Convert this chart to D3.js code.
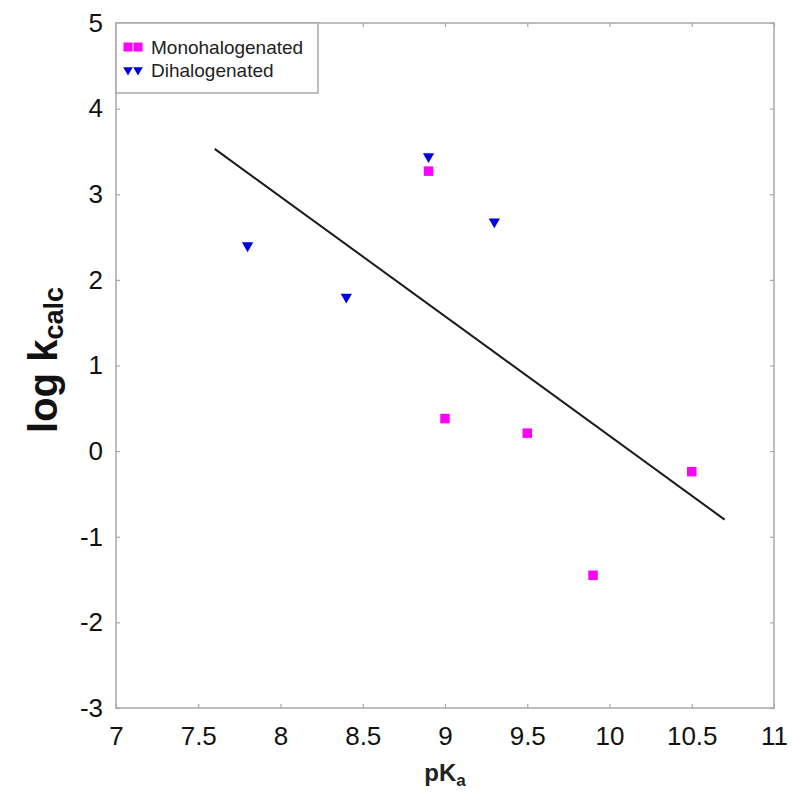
<!DOCTYPE html>
<html>
<head>
<meta charset="utf-8">
<script src="https://cdn.jsdelivr.net/npm/d3@7"></script>
<style>
  body { margin: 0; background: #fff; }
  svg { font-family: "Liberation Sans", Arial, sans-serif; }
</style>
</head>
<body>
<svg class="chart"></svg>
<script>
// series values
var monoPKa  = [8.9, 9.0, 9.5, 9.9, 10.5];
var monoLogK = [3.27, 0.38, 0.21, -1.45, -0.24];
var diPKa    = [7.8, 8.4, 8.9, 9.3];
var diLogK   = [2.40, 1.80, 3.44, 2.68];
var fitPKa   = [7.6, 10.7];
var fitLogK  = [3.53, -0.80];

var xTicks = [7, 7.5, 8, 8.5, 9, 9.5, 10, 10.5, 11];
var yTicks = [-3, -2, -1, 0, 1, 2, 3, 4, 5];
var seriesNames = ['Monohalogenated', 'Dihalogenated'];

var width  = 800;
var height = 802;
var pLeft = 116, pRight = 774, pTop = 23, pBottom = 708;

var svg = d3.select('.chart')
    .attr('width', width)
    .attr('height', height);

var x = d3.scaleLinear().domain([7, 11]).range([pLeft, pRight]);
var y = d3.scaleLinear().domain([-3, 5]).range([pBottom, pTop]);

var frameColor = '#a8a8a8';

// axes with small inward ticks
function styleAxis(g) {
    g.select('.domain').remove();
    g.selectAll('.tick line').attr('stroke', frameColor).attr('stroke-width', 1.2);
    g.selectAll('.tick text').attr('fill', '#111').attr('font-size', 26);
}

svg.append('g').attr('transform', 'translate(0,' + pBottom + ')')
    .call(d3.axisBottom(x).tickValues(xTicks).tickSizeInner(-4).tickSizeOuter(0).tickPadding(19)
          .tickFormat(function(d) { return d; }))
    .call(styleAxis)
    .attr('font-family', null);
svg.append('g').attr('transform', 'translate(0,' + pTop + ')')
    .call(d3.axisTop(x).tickValues(xTicks).tickSizeInner(-4).tickSizeOuter(0).tickFormat(''))
    .call(styleAxis);
svg.append('g').attr('transform', 'translate(' + pLeft + ',0)')
    .call(d3.axisLeft(y).tickValues(yTicks).tickSizeInner(-4).tickSizeOuter(0).tickPadding(13)
          .tickFormat(function(d) { return d; }))
    .call(styleAxis)
    .attr('font-family', null);
svg.append('g').attr('transform', 'translate(' + pRight + ',0)')
    .call(d3.axisRight(y).tickValues(yTicks).tickSizeInner(-4).tickSizeOuter(0).tickFormat(''))
    .call(styleAxis);

// frame
svg.append('rect')
    .attr('x', pLeft).attr('y', pTop)
    .attr('width', pRight - pLeft).attr('height', pBottom - pTop)
    .attr('fill', 'none').attr('stroke', frameColor).attr('stroke-width', 1.5);

// regression line
var fit = fitPKa.map(function(d, i) { return [d, fitLogK[i]]; });
svg.append('path')
    .datum(fit)
    .attr('d', d3.line().x(function(d) { return x(d[0]); }).y(function(d) { return y(d[1]); }))
    .attr('fill', 'none').attr('stroke', '#1a1a1a').attr('stroke-width', 2);

var square = d3.symbol().type(d3.symbolSquare).size(90);
var tri = d3.symbol().type(d3.symbolTriangle).size(55);

var mono = monoPKa.map(function(d, i) { return [d, monoLogK[i]]; });
var di = diPKa.map(function(d, i) { return [d, diLogK[i]]; });

svg.selectAll('path.mono')
    .data(mono).enter().append('path')
    .attr('class', 'mono')
    .attr('d', square)
    .attr('transform', function(d) { return 'translate(' + x(d[0]) + ',' + y(d[1]) + ')'; })
    .attr('fill', '#ff00ff');

svg.selectAll('path.di')
    .data(di).enter().append('path')
    .attr('class', 'di')
    .attr('d', tri)
    .attr('transform', function(d) { return 'translate(' + x(d[0]) + ',' + y(d[1]) + ') rotate(180)'; })
    .attr('fill', '#0000e0');

// legend
var lg = svg.append('g');
lg.append('rect')
    .attr('x', pLeft).attr('y', pTop).attr('width', 202).attr('height', 70)
    .attr('fill', '#fff').attr('stroke', frameColor).attr('stroke-width', 1.5);
seriesNames.forEach(function(name, i) {
    var cy = pTop + 24 + i * 23;
    [128, 138].forEach(function(mx) {
        lg.append('path')
            .attr('d', i === 0 ? d3.symbol().type(d3.symbolSquare).size(81)() : d3.symbol().type(d3.symbolTriangle).size(40)())
            .attr('transform', 'translate(' + mx + ',' + cy + ')' + (i === 0 ? '' : ' rotate(180)'))
            .attr('fill', i === 0 ? '#ff00ff' : '#0000e0');
    });
    lg.append('text')
        .attr('x', 151).attr('y', cy + 7)
        .attr('font-size', 19).attr('fill', '#222')
        .text(name);
});

// axis titles
var xt = svg.append('text')
    .attr('x', (pLeft + pRight) / 2).attr('y', 781)
    .attr('text-anchor', 'middle')
    .attr('font-size', 24).attr('font-weight', 'bold').attr('fill', '#222');
xt.append('tspan').text('pK');
xt.append('tspan').attr('font-size', 17).attr('dy', 5).text('a');

var yt = svg.append('text')
    .attr('transform', 'translate(57,360) rotate(-90)')
    .attr('text-anchor', 'middle')
    .attr('font-size', 40).attr('font-weight', 'bold').attr('fill', '#111');
yt.append('tspan').text('log k');
yt.append('tspan').attr('font-size', 27).attr('dy', 6).text('calc');
</script>
</body>
</html>
